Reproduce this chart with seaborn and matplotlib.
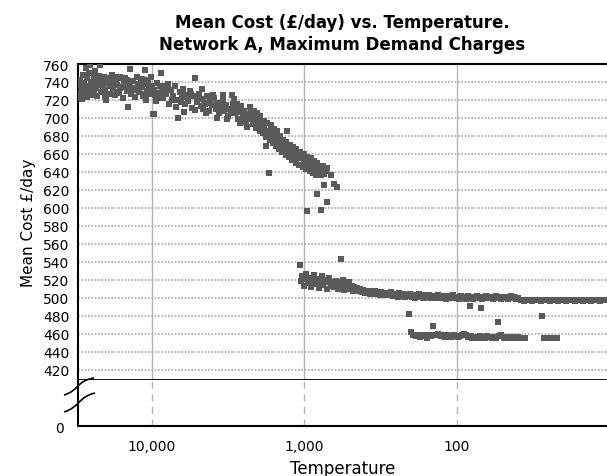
import pandas as pd
import matplotlib
matplotlib.use("Agg")
import matplotlib.pyplot as plt
import seaborn as sns
from matplotlib.path import Path
from matplotlib.patches import PathPatch
from matplotlib.ticker import MultipleLocator, NullLocator

# ---- data (temperature, mean cost £/day) ----
# main cloud, high temperatures
cloud_temp = [30200, 29800, 29500, 29000, 28700, 28300, 27900, 27500, 27100, 26800,
              26400, 26000, 25700, 25300, 25000, 24600, 24200, 23900, 23500, 23100,
              22800, 22400, 22000, 21700, 21300, 21000, 20600, 20300, 19900, 19600,
              19200, 18900, 18500, 18200, 17900, 17500, 17200, 16900, 16500, 16200,
              15900, 15600, 15300, 15000, 14700, 14400, 14200, 13900, 13700, 13400,
              13100, 12900, 12600, 12400, 12100, 11900, 11600, 11400, 11200, 11000,
              10800, 10600, 10400, 10200, 10000, 9800, 9700, 9500, 9300, 9100,
              8900, 8700, 8500, 8300, 8100, 7900, 7700, 7500, 7300, 7100,
              6900, 6760, 6600, 6400, 6250, 6100, 5950, 5800, 5650, 5500,
              5350, 5210, 5080, 4950, 4800, 4720, 4600, 4480, 4360, 4250,
              4140, 4030, 3920, 3820, 3720, 3620, 3530, 3440, 3350, 3260,
              3180, 3100, 3000, 2940, 2870, 2800, 2730, 2660, 2600, 2540,
              2480, 2420, 2360, 2300, 2240, 2180, 2120, 2070, 2020, 1970,
              1920, 1870, 1830, 1800, 1780, 1740, 1690, 1650, 1610, 1570,
              1530, 1500, 1460, 1430, 1400, 1360, 1330, 1300, 1290, 1260,
              1230, 1200, 1170, 1140, 1110, 1080, 1050, 1020, 1000, 975,
              950, 925, 900, 880, 860, 840, 820, 800, 780, 760,
              740, 720]
cloud_cost = [735, 742, 722, 731, 721, 748, 738, 729, 756, 744,
              733, 750, 759, 727, 740, 736, 745, 731, 752, 724,
              738, 747, 759, 729, 741, 735, 746, 731, 720, 739,
              743, 727, 736, 748, 733, 725, 741, 737, 729, 746,
              734, 722, 739, 744, 730, 712, 736, 755, 727, 741,
              733, 723, 745, 737, 729, 740, 734, 724, 753, 738,
              730, 742, 727, 746, 735, 704, 731, 725, 739, 728,
              735, 750, 722, 733, 727, 738, 716, 731, 724, 736,
              720, 700, 729, 723, 732, 715, 726, 719, 730, 711,
              724, 744, 718, 727, 713, 732, 721, 716, 724, 708,
              719, 714, 722, 710, 717, 705, 713, 720, 708, 714,
              702, 710, 726, 716, 705, 711, 699, 707, 713, 702,
              708, 697, 704, 699, 706, 693, 700, 689, 696, 685,
              692, 683, 688, 669, 679, 686, 676, 682, 672, 679,
              669, 675, 665, 671, 662, 668, 659, 686, 665, 656,
              662, 653, 660, 650, 657, 648, 655, 645, 652, 643,
              650, 641, 647, 639, 645, 637, 643, 640, 636, 642,
              638, 641]

# more points of the same cloud (it is ~30 £/day wide)
cloud2_temp = [30400, 29300, 28500, 27700, 26900, 26200, 25500, 24800, 24000, 23300,
               22600, 21900, 21100, 20400, 19700, 19000, 18300, 17700, 17000, 16300,
               15700, 15100, 14500, 14000, 13500, 12800, 12200, 11700, 11300, 10900,
               10500, 9900, 9400, 9000, 8600, 8200, 7800, 7400, 7000, 6500,
               6200, 5850, 5550, 5250, 5000, 4650, 4400, 4200, 3980, 3770,
               3570, 3400, 3220, 3050, 2900, 2760, 2630, 2510, 2390, 2270,
               2150, 2050, 1950, 1850, 1760, 1670, 1590, 1510, 1450, 1380,
               1320, 1250, 1190, 1130, 1070, 1010, 960, 910, 870, 830,
               790, 750, 710]
cloud2_cost = [728, 739, 726, 735, 723, 729, 734, 725, 739, 733,
               741, 737, 730, 724, 744, 738, 741, 745, 728, 733,
               744, 736, 742, 738, 733, 731, 738, 743, 727, 720,
               731, 727, 719, 722, 729, 736, 731, 720, 712, 718,
               707, 722, 727, 709, 722, 710, 705, 717, 726, 700,
               712, 725, 699, 706, 721, 716, 694, 696, 690, 712,
               708, 705, 702, 697, 694, 692, 688, 685, 680, 676,
               673, 670, 668, 665, 662, 660, 657, 655, 652, 650,
               647, 646, 644]

# upper branch after the drop (~500 £/day)
upper_temp = [1050, 1030, 1010, 990, 970, 950, 930, 905, 885, 865,
              845, 825, 805, 790, 770, 750, 735, 715, 700, 685,
              670, 655, 640, 625, 610, 598, 585, 572, 560, 548,
              536, 525, 512, 500, 490, 480, 470, 460, 450, 440,
              430, 420, 410, 400, 390, 380, 370, 362, 353, 345,
              337, 329, 321, 313, 305, 298, 291, 284, 277, 270,
              263, 257, 250, 244, 238, 232, 226, 220, 214, 208,
              203, 198, 193, 188, 183, 178, 173, 168, 164, 160,
              156, 152, 148, 144, 140, 136, 132, 129, 125, 122,
              118, 115, 112, 109, 106, 103, 100, 97, 94, 92,
              89, 87, 84, 82, 80, 78, 76, 74, 72, 70,
              68, 66, 64, 62, 60, 58, 57, 55, 54, 52,
              51, 49, 48, 46, 45, 44, 43, 42, 41, 40,
              38, 37, 36, 35, 34, 33, 32, 31, 30, 29,
              28, 27, 26.2, 25.4, 24.6, 23.8, 23, 22.3, 21.6, 21,
              20.3, 19.7, 19.1, 18.5, 17.9, 17.3, 16.8, 16.3, 15.8, 15.3,
              14.8, 14.4, 13.9, 13.5, 13.1, 12.7, 12.3, 11.9, 11.5, 11.2,
              10.8, 10.5]
upper_cost = [519, 524, 513, 521, 526, 516, 522, 512, 519, 525,
              515, 521, 511, 518, 524, 514, 520, 510, 517, 522,
              513, 518, 512, 519, 515, 510, 517, 513, 520, 509,
              514, 511, 517, 510, 513, 508, 512, 509, 511, 507,
              510, 506, 509, 505, 508, 506, 504, 508, 505, 507,
              504, 506, 503, 506, 504, 505, 503, 505, 503, 506,
              502, 504, 503, 501, 505, 502, 504, 501, 503, 502,
              504, 501, 503, 500, 502, 504, 501, 503, 500, 502,
              501, 503, 500, 502, 500, 501, 503, 500, 502, 501,
              499, 502, 500, 501, 503, 500, 501, 499, 502, 500,
              501, 499, 502, 500, 501, 499, 500, 502, 500, 501,
              499, 500, 502, 500, 501, 499, 500, 502, 500, 501,
              499, 500, 501, 499, 500, 502, 500, 501, 499, 500,
              497, 498, 496, 497, 498, 497, 496, 497, 498, 497,
              496, 497, 498, 497, 496, 497, 498, 497, 496, 497,
              498, 497, 496, 497, 498, 497, 496, 497, 498, 497,
              496, 497, 498, 497, 496, 497, 498, 497, 496, 497,
              498, 497]

# lower branch (~458 £/day)
lower_temp = [200, 193, 186, 180, 174, 168, 162, 157, 152, 147,
              142, 137, 133, 128, 124, 120, 116, 112, 109, 105,
              102, 99, 96, 93, 90, 87, 84, 81, 79, 76,
              74, 71, 69, 67, 65, 63, 61, 59, 57, 55,
              53, 51, 49, 48, 46, 44, 43, 41, 40, 38,
              37, 35.5, 27, 25.5, 24, 23, 22]
lower_cost = [462, 459, 457, 459, 456, 458, 457, 455, 458, 457,
              459, 458, 460, 457, 458, 456, 458, 457, 456, 458,
              457, 456, 457, 459, 460, 458, 456, 457, 455, 456,
              455, 457, 455, 456, 455, 457, 456, 455, 456, 455,
              457, 458, 456, 455, 456, 455, 456, 455, 456, 455,
              455, 455, 455, 455, 455, 455, 455]

# scattered points
stray_temp = [9760, 6760, 1706, 1300, 965, 830, 781, 742, 713, 668,
              641, 613, 1068, 574, 205, 144, 82, 69, 54, 27.5]
stray_cost = [704, 700, 639, 686, 596, 615, 598, 625, 606, 637,
              626, 623, 536, 543, 482, 469, 491, 489, 473, 480]

df = pd.DataFrame({
    "Temperature": cloud_temp + cloud2_temp + upper_temp + lower_temp + stray_temp,
    "Cost": cloud_cost + cloud2_cost + upper_cost + lower_cost + stray_cost,
})

sns.set_style("white")
plt.rcParams["font.family"] = ["DejaVu Sans"]
plt.rcParams["text.color"] = "black"
plt.rcParams["axes.labelcolor"] = "black"
plt.rcParams["xtick.color"] = "black"
plt.rcParams["ytick.color"] = "black"

fig = plt.figure(figsize=(6.07, 4.77), dpi=100)
ax = fig.add_axes([0.1285, 0.2023, 0.8715, 0.6614])
ax2 = fig.add_axes([0.1285, 0.1048, 0.8715, 0.0975])

sns.scatterplot(data=df, x="Temperature", y="Cost", ax=ax, marker="s",
                color="#5a5a5a", s=20, linewidth=0, zorder=3, legend=False)

for a in (ax, ax2):
    a.set_xscale("log")
    a.set_xlim(30600, 10.35)
    a.set_xticks([10000, 1000, 100])
    a.xaxis.set_minor_locator(NullLocator())
    a.set_axisbelow(True)

ax.set_ylim(409, 760)
ax.set_yticks(range(420, 761, 20))
ax.yaxis.set_minor_locator(MultipleLocator(4))
ax.tick_params(axis="y", which="major", direction="out", length=4, width=1,
               labelsize=10, pad=2)
ax.tick_params(axis="y", which="minor", direction="out", length=2.5, width=0.8)
ax.tick_params(axis="x", length=0, labelbottom=False)
ax.grid(axis="y", which="major", color="#a8a8a8", lw=1.2, ls=(0, (1, 1)))
ax.grid(axis="x", which="major", color="#b4b4b4", lw=1, ls="-")
ax.set_xlabel("")
ax.set_ylabel("Mean Cost £/day", fontsize=11, labelpad=5)
ax.spines["right"].set_visible(False)
ax.spines["left"].set_linewidth(1.5)
ax.spines["top"].set_linewidth(1.5)
ax.spines["bottom"].set_linewidth(2)
for s in ("left", "top", "bottom"):
    ax.spines[s].set_color("black")
ax.set_title("Mean Cost (£/day) vs. Temperature.\nNetwork A, Maximum Demand Charges",
             fontsize=12, fontweight="bold", pad=11, linespacing=1.25)

ax2.set_ylim(0, 1)
ax2.set_yticks([0])
ax2.set_xticklabels(["10,000", "1,000", "100"])
ax2.tick_params(axis="both", length=0, labelsize=10)
ax2.tick_params(axis="x", pad=9)
ax2.tick_params(axis="y", pad=10)
ax2.grid(axis="x", which="major", color="#b4b4b4", lw=1, ls=(0, (5, 4)))
ax2.set_xlabel("Temperature", fontsize=12, labelpad=5)
ax2.set_ylabel("")
ax2.spines["right"].set_visible(False)
ax2.spines["top"].set_visible(False)
ax2.spines["left"].set_linewidth(1.5)
ax2.spines["bottom"].set_linewidth(1.5)
ax2.spines["left"].set_color("black")
ax2.spines["bottom"].set_color("black")

# axis-break squiggles drawn in figure pixels
W, H = 607, 477
def squiggle(p0, c1, c2, p3):
    pts = [(x / W, 1 - y / H) for x, y in (p0, c1, c2, p3)]
    path = Path(pts, [Path.MOVETO, Path.CURVE4, Path.CURVE4, Path.CURVE4])
    fig.add_artist(PathPatch(path, fill=False, lw=1.2, color="black",
                             transform=fig.transFigure, zorder=10))

squiggle((64, 396), (80, 391), (76, 382), (94, 379))
squiggle((64, 413), (80, 408), (78, 398), (95, 394))

fig.savefig("out.png", dpi=100)
